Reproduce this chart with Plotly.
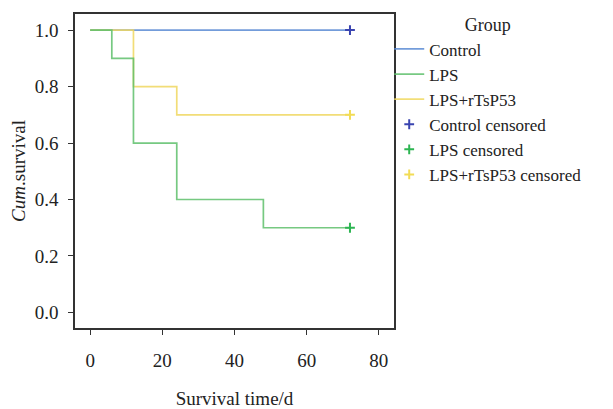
import plotly.graph_objects as go

# Data
ctrl_t = [0, 72]
ctrl_s = [1.0, 1.0]
lps_t = [0, 6, 12, 24, 48, 72]
lps_s = [1.0, 0.9, 0.6, 0.4, 0.3, 0.3]
rts_t = [0, 12, 24, 72]
rts_s = [1.0, 0.8, 0.7, 0.7]
censor_t = [72]
ctrl_c = [1.0]
lps_c = [0.3]
rts_c = [0.7]

x_ticks = [0, 20, 40, 60, 80]
y_ticks = [0.0, 0.2, 0.4, 0.6, 0.8, 1.0]

BLUE = "#5b8bd4"
GREEN = "#5fc06c"
YELLOW = "#f0d860"
FONT = "Liberation Serif"

fig = go.Figure()
fig.add_trace(go.Scatter(x=ctrl_t, y=ctrl_s, mode="lines", line=dict(color=BLUE, width=1.7, shape="hv"),
                         name="Control", opacity=0.85, legendrank=1))
fig.add_trace(go.Scatter(x=rts_t, y=rts_s, mode="lines", line=dict(color=YELLOW, width=1.7, shape="hv"),
                         name="LPS+rTsP53", opacity=0.85, legendrank=3))
fig.add_trace(go.Scatter(x=lps_t, y=lps_s, mode="lines", line=dict(color=GREEN, width=1.7, shape="hv"),
                         name="LPS", opacity=0.85, legendrank=2))
fig.add_trace(go.Scatter(x=censor_t, y=ctrl_c, mode="markers",
                         marker=dict(symbol="cross-thin", size=7, line=dict(color="#3a44b0", width=2)),
                         name="Control censored", legendrank=4))
fig.add_trace(go.Scatter(x=censor_t, y=lps_c, mode="markers",
                         marker=dict(symbol="cross-thin", size=7, line=dict(color="#2db552", width=2)),
                         name="LPS censored", legendrank=5))
fig.add_trace(go.Scatter(x=censor_t, y=rts_c, mode="markers",
                         marker=dict(symbol="cross-thin", size=7, line=dict(color="#f2dc55", width=2)),
                         name="LPS+rTsP53 censored", legendrank=6))

axis_common = dict(showline=True, linecolor="#333333", linewidth=1.5, mirror=True,
                   ticks="outside", ticklen=5, tickcolor="#333333", tickwidth=1.3,
                   showgrid=False, zeroline=False, automargin=False,
                   tickfont=dict(family=FONT, size=19, color="#222222"))

# The page body adds an 8px offset, so the figure is sized to fit the window.
fig.update_layout(
    width=605, height=401,
    margin=dict(l=67, r=219, t=0, b=81),
    paper_bgcolor="white", plot_bgcolor="white",
    font=dict(family=FONT, size=17, color="#222222"),
    xaxis=dict(range=[-4.2, 84.2], tickvals=x_ticks, ticktext=[str(v) for v in x_ticks],
               title=dict(text="Survival time/d", font=dict(family=FONT, size=19), standoff=22),
               ticklabelstandoff=9, **axis_common),
    yaxis=dict(range=[-0.055, 1.057], tickvals=y_ticks, ticktext=[f"{v:.1f}" for v in y_ticks],
               title=dict(text="<i>Cum</i>.survival", font=dict(family=FONT, size=19), standoff=14),
               ticklabelstandoff=6, **axis_common),
    legend=dict(x=0.985, xanchor="left", y=1.02, yanchor="top",
                title=dict(text="Group", side="top center", font=dict(family=FONT, size=18)),
                font=dict(family=FONT, size=17), bgcolor="rgba(0,0,0,0)",
                itemwidth=30, tracegroupgap=0, traceorder="normal"),
    showlegend=True,
)

fig.write_html("out.html")
